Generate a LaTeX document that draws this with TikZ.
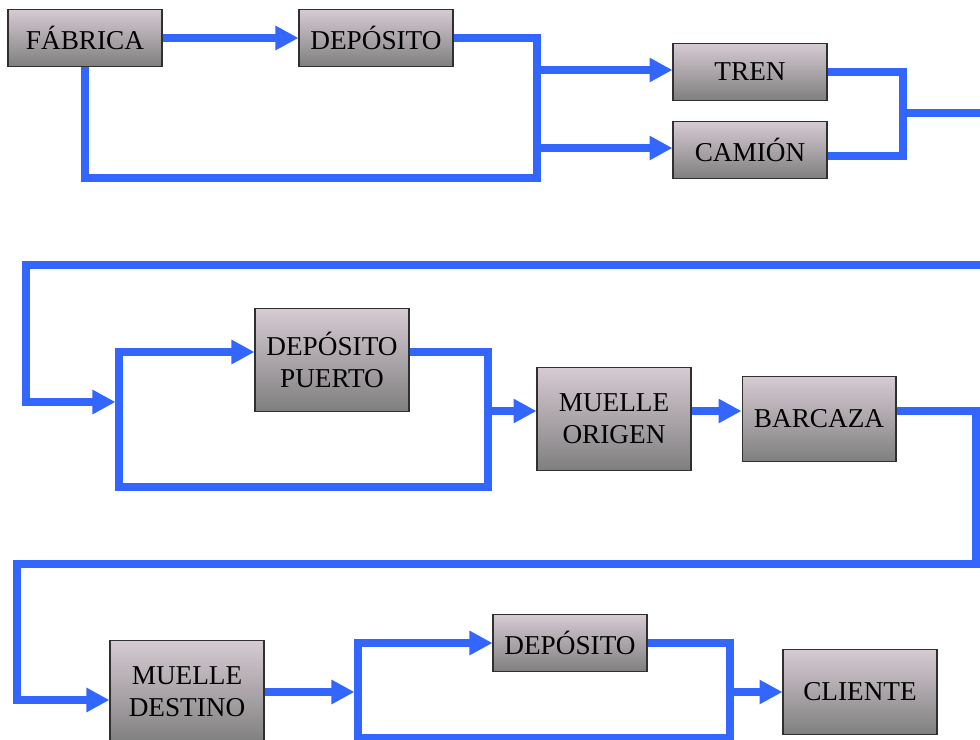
\documentclass[tikz,border=0pt]{standalone}
\usepackage{fontspec}
\setmainfont{Liberation Serif}
\usetikzlibrary{arrows.meta,positioning}
\definecolor{azulflujo}{HTML}{3366FF}
\definecolor{grisclaro}{HTML}{D6CBD3}
\definecolor{grisoscuro}{HTML}{7F7F7F}
\definecolor{borde}{HTML}{303030}

\begin{document}
\begin{tikzpicture}[x=0.02cm,y=-0.02cm,
			caja/.style={draw=borde,semithick,top color=grisclaro,bottom color=grisoscuro,minimum width=3.08cm,minimum height=1.14cm,inner sep=1pt,align=center,font=\fontsize{15.5}{18.2}\selectfont},
			cajados/.style={caja,minimum height=2.06cm},
			cajamedia/.style={caja,minimum height=1.7cm},
			linea/.style={draw=azulflujo,line width=4.4pt,line join=miter},
			flujo/.style={linea,-{Triangle[length=4.6mm,width=4.6mm]}}
			]
			\useasboundingbox (0,0) rectangle (980,740);
			\clip (0,0) rectangle (980,740);
			\node[caja] (fab) at (85,38) {FÁBRICA};
			\node[caja] (dep1) [right=2.72cm of fab] {DEPÓSITO};
			\node[caja] (tren) at (750,72) {TREN};
			\node[caja] (cam) [below=0.4cm of tren] {CAMIÓN};
			\node[cajados] (deppto) at (332,360) {DEPÓSITO\\PUERTO};
			\node[cajados] (mor) at (614,419) {MUELLE\\ORIGEN};
			\node[cajamedia] (bar) [right=1cm of mor] {BARCAZA};
			\node[cajados] (mdes) at (187,692) {MUELLE\\DESTINO};
			\node[caja] (dep2) at (570,643) {DEPÓSITO};
			\node[cajamedia] (cli) at (860,692) {CLIENTE};
			\coordinate (a1) at (537,178);
			\coordinate (a2) at (903,113);
			\coordinate (c1) at (119,402);
			\coordinate (c2) at (119,487);
			\coordinate (c3) at (488,487);
			\coordinate (c4) at (488,411);
			\coordinate (d1) at (17,700);
			\coordinate (e1) at (358,692);
			\coordinate (e2) at (358,738);
			\coordinate (e3) at (730,738);
			\draw[flujo] (fab.east) -- (dep1.west);
			\draw[linea] (fab.south) |- (a1) |- (dep1.east);
			\draw[flujo] ([yshift=0.04cm]a1 |- tren.west) -- ([yshift=0.04cm]tren.west);
			\draw[flujo] ([yshift=0.04cm]a1 |- cam.west) -- ([yshift=0.04cm]cam.west);
			\draw[linea] (tren.east) -| (a2) |- ([yshift=-0.12cm]cam.east);
			\draw[flujo,shorten >=2pt] (a2) -- (995,113) -- (995,265) -- (26,265) |- (c1);
			\draw[flujo] ([yshift=0.16cm]deppto.east) -| (c3) -- (c2) |- ([yshift=0.16cm]deppto.west);
			\draw[flujo] (c4) -- (c4 -| mor.west);
			\draw[flujo] (c4 -| mor.east) -- (c4 -| bar.west);
			\draw[flujo] (c4 -| bar.east) -- (976,411) -- (976,564) -- (17,564) -- (d1) -- (d1 -| mdes.west);
			\draw[flujo,shorten >=2pt] (mdes.east) -- (e1);
			\draw[flujo] (dep2.east) -| (e3) -- (e2) |- (dep2.west);
			\draw[flujo] (e3 |- cli.west) -- (cli.west);
		\end{tikzpicture}
\end{document}
